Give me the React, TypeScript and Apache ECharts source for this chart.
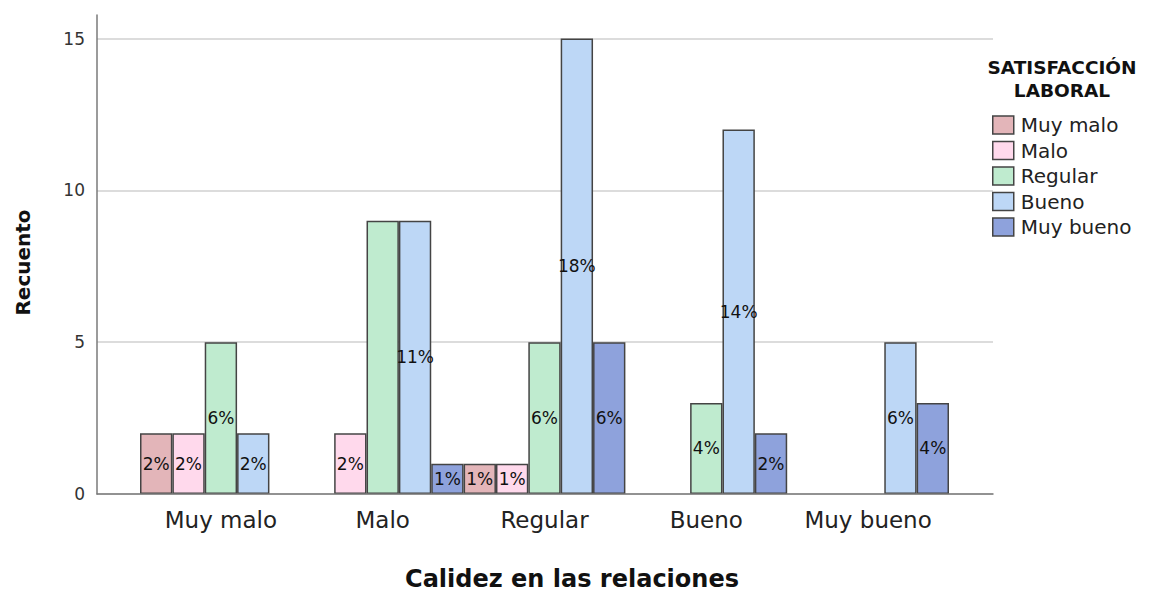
import React, { useEffect, useRef } from "react";
import * as echarts from "echarts";

const categories = ["Muy malo", "Malo", "Regular", "Bueno", "Muy bueno"];
const seriesNames = ["Muy malo", "Malo", "Regular", "Bueno", "Muy bueno"];
const muyMalo = [2, 0, 1, 0, 0];
const malo = [2, 2, 1, 0, 0];
const regular = [5, 9, 5, 3, 0];
const bueno = [2, 9, 15, 12, 5];
const muyBueno = [0, 1, 5, 2, 3];
const seriesValues = [muyMalo, malo, regular, bueno, muyBueno];
const colors = ["#e3b5b9", "#ffd9ec", "#bfebcf", "#bdd7f6", "#8ea2dc"];
const yTicks = [0, 5, 10, 15];
// the reference shows no percentage on this bar (series index, category index)
const hiddenLabels = [[2, 1]];

const FONT = "DejaVu Sans";

export default function App() {
  const ref = useRef<HTMLDivElement>(null);
  useEffect(() => {
    if (!ref.current) return;
    const chart = echarts.init(ref.current, null, { renderer: "svg" });
    const total = seriesValues.reduce(
      (s, arr) => s + arr.reduce((a, b) => a + b, 0),
      0
    );
    const yMax = yTicks[yTicks.length - 1];
    const isHidden = (si: number, ci: number) =>
      hiddenLabels.some(([s, c]) => s === si && c === ci);
    const option: any = {
      animation: false,
      backgroundColor: "#ffffff",
      grid: [
        { left: 97, right: 161, top: 15, bottom: 98 },
        { left: 97, right: 161, top: 38.5, bottom: 98 },
        { left: 140, right: 205, top: 38.5, bottom: 98 },
      ],
      xAxis: [
        {
          type: "value",
          gridIndex: 0,
          min: 0,
          max: 1,
          axisLine: { show: true, lineStyle: { color: "#7a7a7a", width: 1.5 } },
          axisTick: { show: false },
          axisLabel: { show: false },
          splitLine: { show: false },
          z: 5,
        },
        {
          type: "value",
          gridIndex: 1,
          min: 0,
          max: 1,
          show: false,
        },
        {
          type: "category",
          gridIndex: 2,
          data: categories,
          axisLine: { show: false },
          axisTick: { show: false },
          axisLabel: {
            interval: 0,
            fontFamily: FONT,
            fontSize: 23,
            color: "#222222",
            margin: 14,
          },
        },
      ],
      yAxis: [
        {
          type: "value",
          gridIndex: 0,
          min: 0,
          max: 15.8,
          axisLine: { show: true, lineStyle: { color: "#7a7a7a", width: 1.5 } },
          axisTick: { show: false },
          axisLabel: { show: false },
          splitLine: { show: false },
          z: 5,
        },
        {
          type: "value",
          gridIndex: 1,
          min: 0,
          max: yMax,
          interval: 5,
          axisLine: { show: false },
          axisTick: { show: false },
          axisLabel: {
            fontFamily: FONT,
            fontSize: 17,
            color: "#333333",
            margin: 12,
            padding: [7, 0, 0, 0],
          },
          splitLine: { show: true, lineStyle: { color: "#d0d0d0", width: 1.5 } },
        },
        {
          type: "value",
          gridIndex: 2,
          min: 0,
          max: yMax,
          show: false,
        },
      ],
      legend: {
        orient: "vertical",
        left: 992,
        top: 115,
        padding: 0,
        itemWidth: 21,
        itemHeight: 18,
        itemGap: 5.5,
        icon: "rect",
        data: seriesNames,
        itemStyle: { borderColor: "#444444", borderWidth: 1.5 },
        textStyle: {
          fontFamily: FONT,
          fontSize: 20,
          color: "#222222",
          padding: [0, 0, 0, 2],
        },
      },
      graphic: [
        {
          type: "text",
          x: 1062,
          y: 67.5,
          style: {
            text: "SATISFACCIÓN",
            fontFamily: FONT,
            fontWeight: "bold",
            fontSize: 18.5,
            fill: "#111111",
            align: "center",
            verticalAlign: "middle",
          },
        },
        {
          type: "text",
          x: 1062,
          y: 90,
          style: {
            text: "LABORAL",
            fontFamily: FONT,
            fontWeight: "bold",
            fontSize: 18.5,
            fill: "#111111",
            align: "center",
            verticalAlign: "middle",
          },
        },
        {
          type: "text",
          x: 23,
          y: 262.5,
          rotation: Math.PI / 2,
          style: {
            text: "Recuento",
            fontFamily: FONT,
            fontWeight: "bold",
            fontSize: 20,
            fill: "#111111",
            align: "center",
            verticalAlign: "middle",
          },
        },
        {
          type: "text",
          x: 572,
          y: 579,
          style: {
            text: "Calidez en las relaciones",
            fontFamily: FONT,
            fontWeight: "bold",
            fontSize: 24,
            fill: "#111111",
            align: "center",
            verticalAlign: "middle",
          },
        },
      ],
      series: seriesNames.map((name, i) => ({
        name,
        type: "bar",
        xAxisIndex: 2,
        yAxisIndex: 2,
        barGap: "0%",
        barCategoryGap: "0%",
        data: seriesValues[i].map((v, ci) =>
          v === 0
            ? "-"
            : isHidden(i, ci)
            ? { value: v, label: { show: false } }
            : v
        ),
        itemStyle: {
          color: colors[i],
          borderColor: "#444444",
          borderWidth: 1.5,
        },
        label: {
          show: true,
          position: "inside",
          fontFamily: FONT,
          fontSize: 17,
          color: "#111111",
          formatter: (p: any) => `${Math.round((p.value / total) * 100)}%`,
        },
      })),
    };
    chart.setOption(option);
    return () => chart.dispose();
  }, []);
  return (
    <div
      ref={ref}
      style={{ position: "absolute", left: 0, top: 0, width: 1154, height: 592 }}
    />
  );
}
